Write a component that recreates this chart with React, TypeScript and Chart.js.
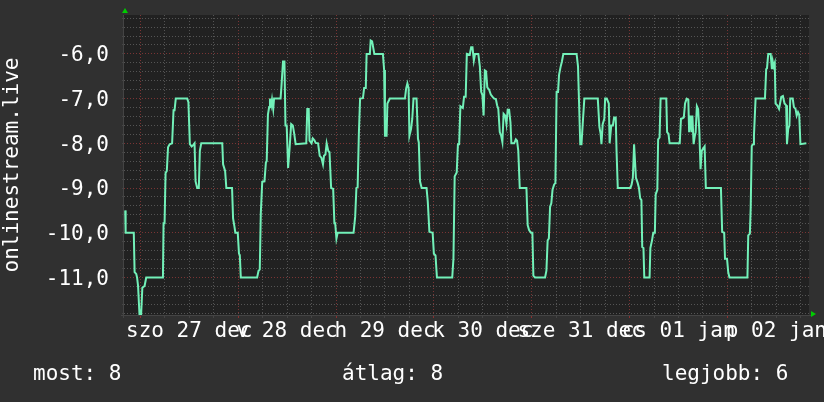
import React, { useEffect, useRef } from "react";
import { Chart, registerables } from "chart.js";

Chart.register(...registerables);

// hours since 27 Dec 00:00 ; value (negated latency)
const dec26: [number, number][] = [
  [-3.7, -9.5], [-3.6, -10.0], [-1.6, -10.0], [-1.4, -10.88], [-1.0, -10.92], [-0.8, -11.0],
  [-0.55, -11.19], [-0.2, -11.83],
];
const dec27: [number, number][] = [
  [0.2, -11.83], [0.5, -11.23], [1.05, -11.19], [1.45, -11.0], [5.55, -11.0], [5.7, -9.79],
  [5.95, -9.79], [6.2, -8.66], [6.5, -8.62], [6.8, -8.09], [7.2, -8.02], [7.8, -8.0], [8.15, -7.26],
  [8.4, -7.26], [8.7, -7.0], [11.5, -7.0], [11.8, -7.08], [12.15, -8.02], [12.6, -8.07], [12.95, -8.04],
  [13.3, -8.0], [13.55, -8.85], [13.95, -9.0], [14.35, -9.0], [14.6, -8.17], [14.95, -8.0], [20.1, -8.0],
  [20.3, -8.47], [20.8, -8.62], [21.1, -9.0], [22.5, -9.0], [22.75, -9.68], [23.1, -9.87], [23.3, -10.0],
  [23.9, -10.0],
];
const dec28: [number, number][] = [
  [24.2, -10.47], [24.4, -10.5], [24.65, -11.0], [28.65, -11.0], [29.0, -10.85], [29.3, -10.82],
  [29.55, -9.57], [29.9, -8.86], [30.45, -8.85], [30.8, -8.43], [31.0, -8.4], [31.3, -7.36], [31.6, -7.19],
  [31.8, -7.0], [32.1, -7.15], [32.3, -7.02], [32.6, -7.23], [32.8, -7.0], [34.4, -7.0], [34.6, -6.75],
  [35.0, -6.17], [35.35, -6.17], [35.6, -7.6], [35.9, -7.6], [36.25, -8.55], [36.6, -8.13], [37.0, -7.57],
  [37.4, -7.6], [37.75, -7.79], [38.1, -8.02], [40.7, -8.0], [40.95, -7.23], [41.3, -7.23], [41.5, -7.94],
  [42.0, -8.0], [42.3, -7.89], [42.7, -7.93], [43.0, -7.99], [43.6, -8.0], [44.0, -8.28], [44.4, -8.32],
  [44.8, -8.47], [45.05, -8.28], [45.4, -8.25], [45.7, -8.0], [46.1, -8.17], [46.4, -8.2], [46.8, -9.0],
  [47.3, -9.02], [47.6, -9.79], [47.8, -9.79],
];
const dec29: [number, number][] = [
  [48.1, -10.13], [48.4, -10.0], [52.3, -10.0], [52.7, -9.64], [53.0, -9.0], [53.3, -8.98], [53.6, -7.79],
  [53.9, -7.0], [54.6, -6.99], [54.9, -6.76], [55.3, -6.76], [55.5, -6.0], [56.3, -6.0], [56.5, -5.7],
  [56.85, -5.72], [57.1, -5.85], [57.4, -6.0], [59.5, -6.0], [59.8, -6.36], [60.0, -7.83], [60.4, -7.83],
  [60.6, -7.11], [61.2, -7.0], [64.9, -7.0], [65.2, -6.77], [65.5, -6.66], [65.8, -6.77], [66.0, -7.83],
  [66.4, -7.68], [66.7, -7.45], [67.0, -7.0], [67.75, -7.0], [68.1, -7.9], [68.3, -7.98], [68.6, -8.85],
  [69.0, -9.0], [70.2, -9.0], [70.5, -9.3], [70.9, -9.98], [71.7, -10.0],
];
const dec30: [number, number][] = [
  [72.0, -10.47], [72.4, -10.51], [72.75, -11.0], [76.5, -11.0], [76.8, -10.58], [77.1, -8.74],
  [77.6, -8.65], [77.9, -8.02], [78.2, -8.02], [78.5, -7.17], [79.1, -7.21], [79.4, -6.96], [79.8, -6.96],
  [80.08, -6.0], [80.8, -6.02], [81.14, -5.85], [81.47, -5.85], [81.8, -6.15], [82.1, -6.0], [82.9, -6.0],
  [83.27, -6.28], [83.6, -6.85], [83.9, -6.92], [84.2, -7.38], [84.5, -6.37], [84.8, -6.39], [85.1, -6.75],
  [85.55, -6.8], [85.96, -6.91], [86.4, -6.96], [86.8, -7.0], [87.2, -7.01], [87.5, -7.15], [87.8, -7.23],
  [88.16, -7.75], [88.5, -7.83], [88.8, -7.97], [89.1, -7.34], [89.5, -7.38], [89.8, -7.57], [90.1, -7.25],
  [90.45, -7.25], [90.78, -7.53], [91.0, -8.0], [91.7, -8.0], [92.1, -7.91], [92.4, -7.94], [92.7, -8.17],
  [93.06, -9.0], [94.7, -9.0], [95.0, -9.83], [95.35, -9.94], [95.8, -10.0],
];
const dec31: [number, number][] = [
  [96.16, -10.0], [96.4, -10.96], [96.8, -11.0], [99.27, -11.0], [99.6, -10.85], [99.9, -10.17],
  [100.2, -10.13], [100.5, -9.42], [100.8, -9.34], [101.1, -9.04], [101.5, -8.92], [101.8, -8.89],
  [102.1, -6.85], [102.45, -6.85], [102.7, -6.47], [103.1, -6.28], [103.4, -6.17], [103.75, -6.0],
  [107.0, -6.0], [107.35, -6.28], [107.6, -7.08], [107.9, -8.02], [108.2, -8.02], [108.5, -7.57],
  [108.9, -7.0], [112.2, -7.0], [112.6, -7.64], [112.9, -7.79], [113.1, -8.02], [113.4, -7.57],
  [113.8, -7.45], [114.0, -7.0], [114.4, -7.0], [114.9, -7.11], [115.1, -8.0], [115.5, -7.6], [115.9, -7.6],
  [116.2, -7.42], [116.6, -7.42], [116.8, -8.17], [117.1, -9.0],
];
const jan01: [number, number][] = [
  [120.2, -9.0], [120.5, -8.92], [120.8, -8.77], [121.1, -8.02], [121.55, -8.77], [121.96, -8.88],
  [122.3, -9.0], [122.6, -9.23], [122.9, -9.27], [123.1, -10.32], [123.4, -10.34], [123.6, -11.0],
  [124.9, -11.0], [125.1, -10.34], [125.5, -10.17], [125.8, -10.0], [126.2, -10.0], [126.4, -9.14],
  [126.8, -9.04], [127.0, -7.91], [127.35, -7.87], [127.6, -7.0], [129.0, -7.0], [129.2, -7.75],
  [129.55, -7.79], [129.8, -8.0], [132.3, -8.0], [132.6, -7.45], [133.0, -7.44], [133.3, -7.42],
  [133.6, -7.11], [134.0, -7.0], [134.4, -7.02], [134.6, -7.75], [134.9, -7.38], [135.2, -7.75],
  [135.4, -7.38], [135.7, -8.02], [136.0, -7.83], [136.2, -7.75], [136.5, -7.17], [136.8, -7.23],
  [137.1, -7.72], [137.4, -8.58], [137.7, -8.17], [137.96, -8.13], [138.4, -8.07], [138.7, -9.0],
  [142.4, -9.0], [142.7, -9.98], [143.2, -10.0], [143.4, -10.58], [143.9, -10.58],
];
const jan02: [number, number][] = [
  [144.2, -10.89], [144.5, -11.0], [148.9, -11.0], [149.1, -10.06], [149.5, -10.02], [149.7, -9.45],
  [149.96, -8.06], [150.3, -8.02], [150.5, -7.83], [150.9, -7.0], [153.2, -7.0], [153.5, -6.34],
  [153.7, -6.32], [154.0, -6.0], [154.6, -6.0], [154.9, -6.34], [155.1, -6.17], [155.3, -6.28],
  [155.6, -6.2], [155.8, -7.11], [156.2, -7.15], [156.65, -7.23], [156.9, -7.11], [157.2, -6.96],
  [157.6, -6.94], [158.0, -7.11], [158.4, -7.15], [158.6, -8.02], [158.9, -7.68], [159.2, -7.6],
  [159.4, -7.0], [160.0, -7.0], [160.3, -7.19], [160.7, -7.23], [160.98, -7.38], [161.3, -7.3],
  [161.6, -7.36], [161.9, -8.02], [163.35, -8.0],
];

const dayLabelHours = [12, 36, 60, 84, 108, 132, 156];
const dayLabels = ["szo 27 dec", "v 28 dec", "h 29 dec", "k 30 dec", "sze 31 dec", "cs 01 jan", "p 02 jan"];
const yMajorValues = [-11, -10, -9, -8, -7, -6];
const yMajorLabels = ["-11,0", "-10,0", "-9,0", "-8,0", "-7,0", "-6,0"];
const yAxisTitle = "onlinestream.live";
const footerTexts = ["most: 8", "átlag: 8", "legjobb: 6"];

const X_MIN = -4;
const X_MAX = 164;
const Y_MIN = -11.84;
const Y_MAX = -5.13;

const FONT = "'DejaVu Sans Mono', monospace";
const RED_GRID = "#7a3434";
const GRAY_GRID = "#545454";

const rrdPlugin = {
  id: "rrdDecor",
  beforeDraw(chart: any) {
    const { ctx, chartArea: a } = chart;
    ctx.save();
    ctx.fillStyle = "#303030";
    ctx.fillRect(0, 0, chart.width, chart.height);
    ctx.fillStyle = "#212121";
    ctx.fillRect(a.left, a.top, a.right - a.left, a.bottom - a.top);
    ctx.restore();
  },
  afterDraw(chart: any) {
    const { ctx, chartArea: a } = chart;
    ctx.save();
    ctx.strokeStyle = "#444444";
    ctx.lineWidth = 1;
    ctx.beginPath();
    ctx.moveTo(a.left - 0.5, a.top);
    ctx.lineTo(a.left - 0.5, a.bottom + 3);
    ctx.moveTo(a.left - 3, a.bottom + 0.5);
    ctx.lineTo(a.right + 2, a.bottom + 0.5);
    ctx.stroke();
    ctx.fillStyle = "#00cc00";
    ctx.beginPath();
    ctx.moveTo(a.left + 1, a.top - 7);
    ctx.lineTo(a.left - 2, a.top - 2);
    ctx.lineTo(a.left + 4, a.top - 2);
    ctx.closePath();
    ctx.fill();
    ctx.beginPath();
    ctx.moveTo(a.right + 7, a.bottom - 1);
    ctx.lineTo(a.right + 2, a.bottom - 4);
    ctx.lineTo(a.right + 2, a.bottom + 2);
    ctx.closePath();
    ctx.fill();
    ctx.restore();
  },
};

export default function App() {
  const canvasRef = useRef<HTMLCanvasElement | null>(null);

  useEffect(() => {
    document.body.style.margin = "0";
    const canvas = canvasRef.current;
    if (!canvas) return;
    const points = [...dec26, ...dec27, ...dec28, ...dec29, ...dec30, ...dec31, ...jan01, ...jan02].map(
      ([x, y]) => ({ x, y })
    );
    const chart = new Chart(canvas, {
      type: "line",
      data: {
        datasets: [
          {
            data: points,
            borderColor: "#72f0b8",
            borderWidth: 2,
            pointRadius: 0,
            tension: 0,
            fill: false,
          },
        ],
      },
      options: {
        animation: false,
        responsive: false,
        devicePixelRatio: 1,
        layout: { padding: { top: 15, right: 15, left: 0, bottom: 0 } },
        plugins: { legend: { display: false }, tooltip: { enabled: false } },
        scales: {
          x: {
            type: "linear",
            min: X_MIN,
            max: X_MAX,
            afterBuildTicks: (scale: any) => {
              const t = [];
              for (let h = 0; h <= X_MAX; h += 6) t.push({ value: h });
              scale.ticks = t;
            },
            afterFit: (scale: any) => {
              scale.height = 87;
              scale.paddingLeft = 0;
              scale.paddingRight = 0;
            },
            grid: {
              color: (c: any) => (c.tick && c.tick.value % 24 === 0 ? RED_GRID : GRAY_GRID),
              tickColor: (c: any) => (c.tick && c.tick.value % 24 === 0 ? "#8a3030" : "#444444"),
              lineWidth: 1,
              drawTicks: true,
              tickLength: 3,
            },
            border: { display: false, dash: [1, 2] },
            ticks: {
              autoSkip: false,
              maxRotation: 0,
              minRotation: 0,
              padding: 1,
              color: "#ffffff",
              font: { family: FONT, size: 21 },
              callback: (value: any) => {
                const i = dayLabelHours.indexOf(Number(value));
                return i >= 0 ? dayLabels[i] : "";
              },
            },
          },
          y: {
            type: "linear",
            min: Y_MIN,
            max: Y_MAX,
            afterBuildTicks: (scale: any) => {
              const t = [];
              for (let k = -59; k <= -26; k++) t.push({ value: k / 5 });
              scale.ticks = t;
            },
            afterFit: (scale: any) => {
              scale.width = 124;
              scale.paddingTop = 0;
              scale.paddingBottom = 0;
            },
            grid: {
              color: (c: any) =>
                c.tick && Math.abs(c.tick.value - Math.round(c.tick.value)) < 1e-6 ? RED_GRID : GRAY_GRID,
              tickColor: "#444444",
              lineWidth: 1,
              drawTicks: true,
              tickLength: 2,
            },
            border: { display: false, dash: [1, 2] },
            title: {
              display: true,
              text: yAxisTitle,
              color: "#ffffff",
              font: { family: FONT, size: 21 },
              padding: { top: 0, bottom: 0 },
            },
            ticks: {
              autoSkip: false,
              padding: 13,
              labelOffset: 2,
              color: "#ffffff",
              font: { family: FONT, size: 21 },
              callback: (value: any) => {
                const i = yMajorValues.findIndex((v) => Math.abs(v - Number(value)) < 1e-6);
                return i >= 0 ? yMajorLabels[i] : "";
              },
            },
          },
        },
      },
      plugins: [rrdPlugin],
    } as any);
    return () => chart.destroy();
  }, []);

  const footerLeft = [33, 342, 662];

  return (
    <div style={{ position: "relative", width: 824, height: 402, background: "#303030", overflow: "hidden" }}>
      <canvas ref={canvasRef} width={824} height={402} style={{ display: "block", width: 824, height: 402 }} />
      {footerTexts.map((t, i) => (
        <div
          key={t}
          style={{
            position: "absolute",
            left: footerLeft[i],
            top: 363,
            fontFamily: FONT,
            fontSize: 21,
            lineHeight: "21px",
            color: "#ffffff",
            whiteSpace: "pre",
          }}
        >
          {t}
        </div>
      ))}
    </div>
  );
}
